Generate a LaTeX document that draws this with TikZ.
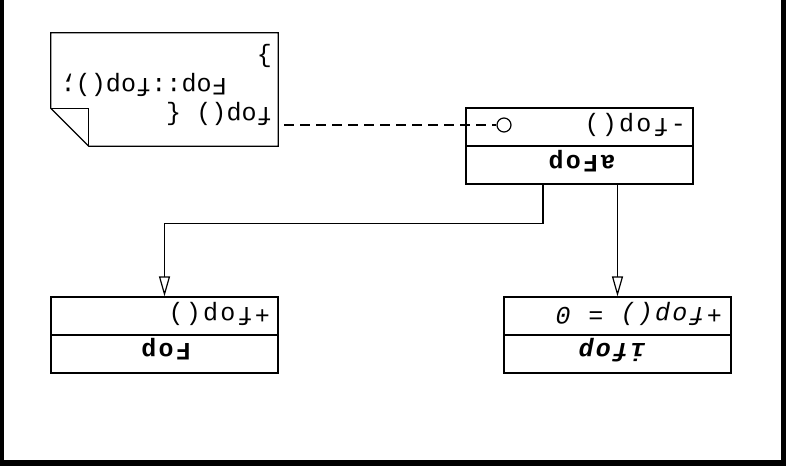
\documentclass[tikz,border=0pt]{standalone}
\usepackage{fontspec}
\usetikzlibrary{arrows.meta}
\newfontfamily\clsfont[LetterSpace=9]{Liberation Mono}
\newfontfamily\notefont[LetterSpace=0.5]{Liberation Mono}
\tikzset{
  box/.style={draw, line width=1.2pt, minimum width=227pt, minimum height=38pt, inner sep=0pt},
  txt/.style={rotate=180, inner sep=0pt, anchor=base west, font=\clsfont\fontsize{25}{29}\selectfont},
  nametxt/.style={rotate=180, inner sep=0pt, anchor=base, font=\clsfont\fontsize{25}{29}\selectfont\bfseries},
  notetxt/.style={rotate=180, inner sep=0pt, anchor=base west, font=\notefont\fontsize{25}{29}\selectfont},
  gen/.style={-{Triangle[open,length=20pt,width=11pt]}, line width=1.2pt},
}
\begin{document}
\begin{tikzpicture}[x=1pt, y=-1pt]
\path[use as bounding box] (0,0) rectangle (786,466);
\clip (0,0) rectangle (786,466);
% frame
\draw[line width=6pt] (1,-10) -- (1,463) -- (784,463) -- (784,-10);

% note
\node (note) [minimum width=227pt, minimum height=113pt, inner sep=0pt] at (164.5,89.5) {};
\draw[line width=1.2pt] (note.north west) -- (note.north east) -- (note.south east)
  -- ([xshift=38pt]note.south west) -- ([yshift=38pt]note.south west) -- cycle;
\draw[line width=1.2pt] ([yshift=38pt]note.south west) -- ([xshift=38pt,yshift=38pt]note.south west)
  -- ([xshift=38pt]note.south west);
\node (n1) [notetxt] at (272,107) {fop() \{};
\node (n2) [notetxt] at (227,78) {Fop::fop();};
\node (n3) [notetxt] at (272,49) {\}};

% aFop
\node (afopops) [box] at (579.5,127) {};
\node (afopname) [box] at (579.5,165) {};
\node (afopm) [txt] at (686,118) {-fop()};
\node (afopn) [nametxt] at (582,155) {aFop};
\node (lolli) [circle, draw, line width=1.2pt, fill=white, minimum size=14pt, inner sep=0pt] at (504,125) {};

% Fop
\node (fopops) [box] at (164.5,316) {};
\node (fopname) [box] at (164.5,354) {};
\node (fopm) [txt] at (270,307) {+fop()};
\node (fopn) [nametxt] at (166,343) {Fop};

% ifop
\node (ifopops) [box] at (617.5,316) {};
\node (ifopname) [box] at (617.5,354) {};
\node (ifopm) [txt, font=\clsfont\fontsize{25}{29}\selectfont\itshape] at (722,307) {+fop() = 0};
\node (ifopn) [nametxt, font=\clsfont\fontsize{25}{29}\selectfont\bfseries\itshape] at (612,343) {ifop};

% connectors
\draw[line width=1.2pt, dash pattern=on 10pt off 6pt, dash phase=10pt] (note.east |- lolli.west) -- (lolli.west);
\draw[gen] ([xshift=-36.5pt]afopname.south) -- ++(0,39) -| (fopops.north);
\draw[gen] (afopname.south -| ifopops.north) -- (ifopops.north);
\end{tikzpicture}
\end{document}
